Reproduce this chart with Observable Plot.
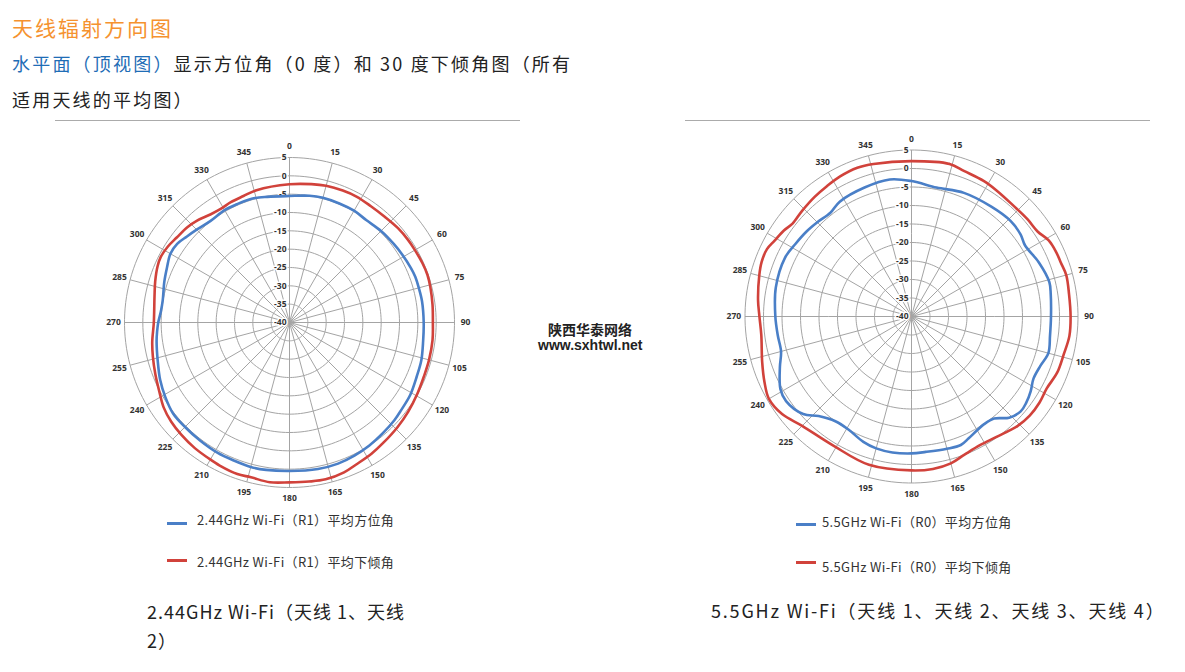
<!DOCTYPE html>
<html>
<head>
<meta charset="utf-8">
<script src="https://cdn.jsdelivr.net/npm/d3@7"></script>
<script src="https://cdn.jsdelivr.net/npm/@observablehq/plot@0.6"></script>
<style>
  body { margin: 0; background: #fff; }
  #page { position: relative; width: 1185px; height: 672px; overflow: hidden;
          font-family: "Noto Sans CJK SC", "Noto Sans", sans-serif; }
  .abs { position: absolute; white-space: nowrap; }
  .hr { position: absolute; height: 0; border-top: 1px solid #ababab; }
  .leg { position: absolute; font-size: 13px; line-height: 13px; letter-spacing: 0.35px; color: #333; white-space: nowrap; }
  .swatch { position: absolute; height: 3px; width: 20px; }
  .chart { position: absolute; }
</style>
</head>
<body>
<div id="page">
  <div class="abs" style="left:12px;top:17px;font-size:21px;line-height:21px;letter-spacing:2px;color:#f5922f;">天线辐射方向图</div>
  <div class="abs" style="left:12px;top:45px;font-size:18px;line-height:36px;letter-spacing:2.2px;color:#222;"><span style="color:#1f6db6;">水平面（顶视图）</span>显示方位角（0 度）和 30 度下倾角图（所有<br>适用天线的平均图）</div>
  <div class="hr" style="left:55px;top:120px;width:465px;"></div>
  <div class="hr" style="left:685px;top:120px;width:465px;"></div>

  <div id="chartL" class="chart"></div>
  <div id="chartR" class="chart"></div>

  <div class="abs" style="left:548px;top:321px;font-size:14px;line-height:16px;font-weight:bold;color:#222;width:82px;text-align:center;">陕西华泰网络</div>
  <div class="abs" style="left:538px;top:337px;font-size:14px;line-height:16px;font-weight:bold;color:#222;font-family:'Liberation Sans',Arial,sans-serif;">www.sxhtwl.net</div>

  <div id="legL"></div>
  <div id="legR"></div>

  <div class="abs" style="left:147px;top:597px;font-size:18px;line-height:28.5px;letter-spacing:1px;color:#222;">2.44GHz Wi-Fi（天线 1、天线<br>2）</div>
  <div class="abs" style="left:711px;top:596px;font-size:18px;line-height:28.5px;letter-spacing:1.8px;color:#222;">5.5GHz Wi-Fi（天线 1、天线 2、天线 3、天线 4）</div>
</div>

<script>
// ---------- tick labels ----------
const angleTicks = [0, 15, 30, 45, 60, 75, 90, 105, 120, 135, 150, 165, 180, 195, 210, 225, 240, 255, 270, 285, 300, 315, 330, 345];
const ringTicks = [5, 0, -5, -10, -15, -20, -25, -30, -35, -40];

// ---------- series names ----------
const seriesNamesL = ["2.44GHz Wi-Fi（R1）平均方位角", "2.44GHz Wi-Fi（R1）平均下倾角"];
const seriesNamesR = ["5.5GHz Wi-Fi（R0）平均方位角", "5.5GHz Wi-Fi（R0）平均下倾角"];
const seriesColors = ["#4a7fc7", "#d1423b"];

// ---------- 2.44 GHz, average azimuth (blue) ----------
const g24AzAngles = [0, 9, 15, 23, 30, 37, 45, 53, 59, 66, 70, 75, 81, 90, 98, 106, 113, 121, 128, 133, 140, 147, 154, 161, 169, 180, 189, 195, 202, 209, 217, 225, 232, 239, 246, 254, 262, 266, 270, 275, 280, 288, 294, 300, 305, 310, 315, 322, 330, 336, 343, 350];
const g24AzValues = [-5.5, -5.0, -4.8, -4.8, -4.8, -5.1, -4.7, -4.4, -4.1, -3.7, -3.5, -3.5, -3.4, -3.4, -3.2, -2.6, -2.3, -1.6, -1.3, -0.9, -0.5, 0.0, 0.4, 0.7, 0.7, 0.5, 0.7, 0.8, 0.6, 0.6, 0.4, 0.3, 0.3, -0.5, -1.4, -2.6, -3.4, -3.8, -4.2, -4.8, -4.9, -4.1, -3.4, -2.5, -2.6, -3.5, -4.2, -4.9, -4.6, -4.7, -4.7, -5.2];

// ---------- 2.44 GHz, average downtilt (red) ----------
const g24DtAngles = [0, 9, 15, 22, 28, 35, 42, 49, 55, 60, 66, 71, 76, 83, 90, 97, 105, 112, 119, 127, 134, 142, 148, 155, 160, 167, 173, 180, 187, 194, 199, 206, 211, 217, 224, 230, 236, 242, 249, 256, 262, 270, 281, 287, 293, 297, 302, 307, 313, 318, 324, 329, 334, 340, 346];
const g24DtValues = [-2.3, -1.8, -1.4, -1.2, -1.1, -1.3, -1.2, -0.8, -0.6, -0.5, -0.3, -0.2, -0.4, -0.7, -0.9, -0.7, -0.6, -0.5, -0.1, 0.5, 1.0, 1.6, 2.2, 2.8, 3.5, 3.9, 3.7, 3.6, 3.9, 3.5, 3.7, 3.4, 3.1, 2.9, 2.5, 2.1, 1.4, 0.2, -0.8, -1.6, -2.2, -3.0, -2.5, -1.7, -0.9, -0.6, -0.9, -1.5, -1.9, -2.5, -3.5, -3.8, -3.5, -3.3, -2.8];

// ---------- 5.5 GHz, average azimuth (blue) ----------
const g55AzAngles = [0, 11, 23, 36, 46, 53, 58, 67, 76, 81, 90, 98, 105, 111, 117, 122, 127, 131, 136, 141, 146, 150, 155, 159, 165, 174, 180, 188, 195, 201, 209, 216, 223, 228, 236, 241, 249, 255, 262, 270, 282, 295, 302, 309, 315, 322, 328, 340, 351];
const g55AzValues = [-3.4, -4.5, -3.7, -3.3, -2.8, -3.1, -3.8, -2.6, -1.6, -1.9, -2.3, -2.2, -1.7, -2.7, -3.0, -2.0, -1.2, -0.9, -2.0, -4.5, -4.9, -4.5, -3.6, -2.8, -3.0, -3.2, -3.0, -2.9, -3.1, -3.7, -5.0, -5.0, -3.2, -0.6, 0.9, 0.5, -1.9, -3.5, -3.5, -3.2, -2.5, -2.3, -3.0, -3.5, -4.0, -4.4, -3.4, -2.9, -2.5];

// ---------- 5.5 GHz, average downtilt (red) ----------
const g55DtAngles = [0, 14, 20, 28, 34, 43, 50, 56, 61, 66, 70, 75, 82, 90, 97, 104, 111, 118, 124, 130, 136, 145, 152, 159, 165, 172, 180, 196, 211, 225, 233, 240, 246, 253, 263, 270, 276, 285, 290, 295, 299, 304, 308, 314, 321, 327, 333, 340, 346];
const g55DtValues = [2.0, 2.5, 1.8, 1.5, 1.1, 0.7, 0.9, 1.1, 2.4, 2.8, 2.9, 3.3, 3.0, 3.0, 3.0, 2.4, 2.2, 1.4, 1.7, 1.7, 1.2, -0.2, -0.6, 0.0, 1.1, 1.6, 1.6, 1.7, 0.8, 1.8, 3.8, 4.5, 3.5, 2.2, 0.9, 1.1, 1.7, 2.6, 3.1, 3.1, 2.3, 1.6, 0.8, 1.1, 1.6, 2.0, 2.5, 2.8, 2.5];

// ---------- helpers ----------
const minDb = -40, maxDb = 5;
const lon = (angle) => 180 - angle;          // 0° at top, clockwise
const lat = (db) => 90 - (db - minDb);       // -40 dB at centre
const toPoints = (angles, values) => angles.map((a, i) => ({lon: lon(a), lat: lat(values[i])}));

function polarChart(series, outerPx) {
  const size = 400;
  const domainRadius = (maxDb - minDb) * (size / 2) / outerPx;
  const grid = "#a4a4a4";
  return Plot.plot({
    width: size,
    height: size,
    margin: 0,
    style: {background: "transparent", overflow: "visible", fontFamily: "'Open Sans', 'Liberation Sans', sans-serif"},
    projection: {
      type: "azimuthal-equidistant",
      rotate: [0, -90],
      domain: d3.geoCircle().center([0, 90]).radius(domainRadius)()
    },
    marks: [
      Plot.geo(ringTicks.filter((d) => d > minDb), {
        geometry: (d) => d3.geoCircle().center([0, 90]).radius(d - minDb).precision(2)(),
        stroke: grid, fill: "none", strokeWidth: 1
      }),
      Plot.link(angleTicks, {
        x1: (d) => lon(d), y1: 90, x2: (d) => lon(d), y2: lat(maxDb),
        stroke: grid, strokeWidth: 1
      }),
      Plot.text(ringTicks, {
        x: 180, y: (d) => lat(d), text: (d) => String(d),
        textAnchor: "end", dx: -3, fontSize: 8.5, fontWeight: "bold",
        fill: "#333", stroke: "white", strokeWidth: 3
      }),
      Plot.text(angleTicks, {
        x: (d) => lon(d), y: lat(maxDb + 3), text: (d) => String(d),
        fontSize: 8.5, fontWeight: "bold", fill: "#333"
      }),
      ...series.map((s, i) => Plot.line(s, {
        x: "lon", y: "lat", curve: "catmull-rom-closed",
        stroke: seriesColors[i], strokeWidth: 2.6
      }))
    ]
  });
}

function place(id, node, cx, cy) {
  const el = document.getElementById(id);
  el.style.left = (cx - 200) + "px";
  el.style.top = (cy - 200) + "px";
  el.appendChild(node);
}

place("chartL", polarChart([toPoints(g24AzAngles, g24AzValues), toPoints(g24DtAngles, g24DtValues)], 165), 288.5, 321.5);
place("chartR", polarChart([toPoints(g55AzAngles, g55AzValues), toPoints(g55DtAngles, g55DtValues)], 166.5), 911.3, 315.8);

function legend(id, names, x0, textX, rows) {
  const el = document.getElementById(id);
  names.forEach((name, i) => {
    const sw = document.createElement("div");
    sw.className = "swatch";
    sw.style.left = x0 + "px";
    sw.style.top = (rows[i].sample - 1.5) + "px";
    sw.style.background = seriesColors[i];
    el.appendChild(sw);
    const t = document.createElement("div");
    t.className = "leg";
    t.style.left = textX + "px";
    t.style.top = (rows[i].text - 6.5) + "px";
    t.textContent = name;
    el.appendChild(t);
  });
}
legend("legL", seriesNamesL, 167, 197, [{sample: 523, text: 519}, {sample: 560, text: 561}]);
legend("legR", seriesNamesR, 796, 822, [{sample: 524.5, text: 521}, {sample: 562, text: 566}]);
</script>
</body>
</html>
